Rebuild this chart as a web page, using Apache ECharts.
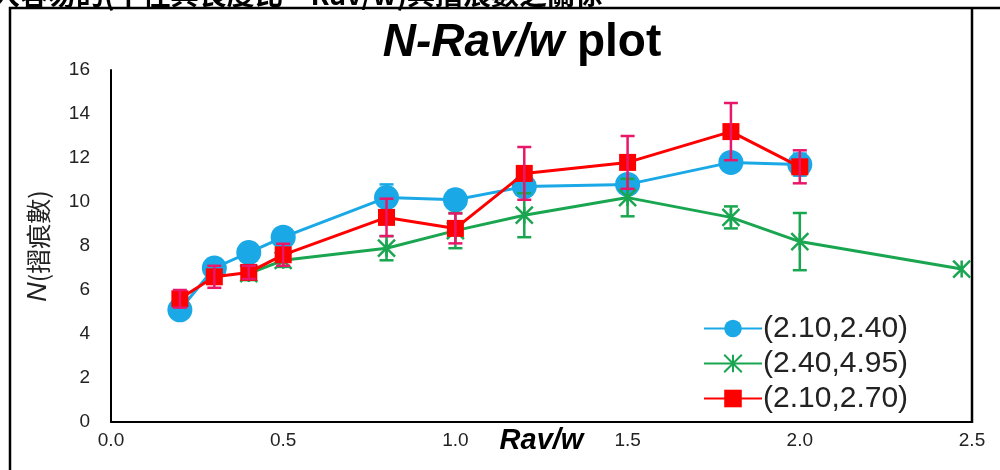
<!DOCTYPE html>
<html><head><meta charset="utf-8">
<script src="https://cdn.jsdelivr.net/npm/echarts@6/dist/echarts.min.js"></script>
<style>html,body{margin:0;padding:0;background:#fff}#c{width:1000px;height:470px}</style>
</head><body><div id="c"></div>
<script>
const seriesNames = ['(2.10,2.40)', '(2.40,4.95)', '(2.10,2.70)'];
const xTicks = [0, 0.5, 1.0, 1.5, 2.0, 2.5];
const yTicks = [0, 2, 4, 6, 8, 10, 12, 14, 16];

const blueX   = [0.2, 0.3, 0.4, 0.5, 0.8, 1.0, 1.2, 1.5, 1.8, 2.0];
const blueY   = [5.1, 7.0, 7.7, 8.4, 10.2, 10.1, 10.7, 10.8, 11.8, 11.7];
const blueErr = [0.2, 0.2, 0.3, 0.3, 0.6, 0.3, 0.3, 0.3, 0.3, 0.5];

const greenX   = [0.4, 0.5, 0.8, 1.0, 1.2, 1.5, 1.8, 2.0, 2.47];
const greenY   = [6.75, 7.35, 7.9, 8.7, 9.4, 10.2, 9.3, 8.2, 6.95];
const greenErr = [0.3, 0.3, 0.55, 0.8, 1.0, 0.85, 0.5, 1.3, 0];

const redX   = [0.2, 0.3, 0.4, 0.5, 0.8, 1.0, 1.2, 1.5, 1.8, 2.0];
const redY   = [5.6, 6.6, 6.8, 7.6, 9.3, 8.8, 11.3, 11.8, 13.2, 11.6];
const redErr = [0.4, 0.5, 0.3, 0.5, 0.85, 0.68, 1.2, 1.2, 1.3, 0.75];

const BLUE = '#1aa9e6', GREEN = '#1aa650', RED = '#ff0000', PINK = '#e8176a';

function pts(xs, ys) { return xs.map((x, i) => [x, ys[i]]); }
function errData(xs, ys, es) { return xs.map((x, i) => [x, ys[i] - es[i], ys[i] + es[i]]); }
function errSeries(data, color, z) {
  return {
    type: 'custom', z: z, silent: true,
    renderItem: function (params, api) {
      const lo = api.coord([api.value(0), api.value(1)]);
      const hi = api.coord([api.value(0), api.value(2)]);
      if (Math.abs(hi[1] - lo[1]) < 1) return null;
      const w = 7;
      const st = { stroke: color, lineWidth: 2.5 };
      return { type: 'group', children: [
        { type: 'line', shape: { x1: lo[0], y1: lo[1], x2: hi[0], y2: hi[1] }, style: st },
        { type: 'line', shape: { x1: lo[0] - w, y1: lo[1], x2: lo[0] + w, y2: lo[1] }, style: st },
        { type: 'line', shape: { x1: hi[0] - w, y1: hi[1], x2: hi[0] + w, y2: hi[1] }, style: st }
      ]};
    },
    encode: { x: 0, y: [1, 2] },
    data: data
  };
}

const chart = echarts.init(document.getElementById('c'), null, { renderer: 'canvas' });
const FONT = 'Liberation Sans, Arial, sans-serif';
chart.setOption({
  backgroundColor: '#fff',
  animation: false,
  textStyle: { fontFamily: FONT },
  title: {
    text: '{i|N-Rav/w}{n| plot}',
    left: 517, top: 15, textAlign: 'center',
    textStyle: { rich: {
      i: { fontSize: 46, fontWeight: 'bold', fontStyle: 'italic', color: '#000', fontFamily: FONT },
      n: { fontSize: 46, fontWeight: 'bold', color: '#000', fontFamily: FONT }
    }}
  },
  grid: { left: 111, right: 28, top: 70, bottom: 48, containLabel: false, outerBoundsMode: 'none' },
  xAxis: {
    type: 'value', min: 0, max: 2.5, interval: 0.5,
    axisLine: { show: true, lineStyle: { color: '#000', width: 2 } },
    axisTick: { show: false }, splitLine: { show: false },
    axisLabel: { color: '#222', fontSize: 19, margin: 9, formatter: v => v.toFixed(1) },
    name: 'Rav/w', nameLocation: 'middle', nameGap: 4, nameMoveOverlap: false,
    nameTextStyle: { fontSize: 29, fontWeight: 'bold', fontStyle: 'italic', color: '#000' }
  },
  yAxis: {
    type: 'value', min: 0, max: 16, interval: 2,
    axisLine: { show: true, lineStyle: { color: '#000', width: 2 } },
    axisTick: { show: false }, splitLine: { show: false },
    axisLabel: { color: '#222', fontSize: 19, margin: 21 },
    name: '{i|N}{n|(摺痕數)}', nameLocation: 'middle', nameGap: 59, nameRotate: 90, nameMoveOverlap: false,
    nameTextStyle: { rich: {
      i: { fontSize: 27, fontStyle: 'italic', color: '#222', fontFamily: FONT },
      n: { fontSize: 25, color: '#222', fontFamily: 'Noto Sans CJK TC, sans-serif' }
    }}
  },
  legend: {
    orient: 'vertical', left: 698, top: 308, itemGap: 4,
    itemWidth: 58, itemHeight: 22,
    data: seriesNames,
    textStyle: { fontSize: 30, lineHeight: 31, color: '#222', fontFamily: FONT, padding: [0, 0, 0, -4] }
  },
  series: [
    {
      name: seriesNames[0], type: 'line', z: 2, data: pts(blueX, blueY),
      symbol: 'circle', symbolSize: 25,
      lineStyle: { color: BLUE, width: 3 }, itemStyle: { color: BLUE }
    },
    errSeries(errData(blueX, blueY, blueErr), BLUE, 2),
    {
      name: seriesNames[1], type: 'line', z: 3, data: pts(greenX, greenY),
      symbol: 'path://M0,0 L10,10 M10,0 L0,10 M5,0 L5,10', symbolSize: 17,
      lineStyle: { color: GREEN, width: 3 },
      itemStyle: { color: 'none', borderColor: GREEN, borderWidth: 2.5 }
    },
    errSeries(errData(greenX, greenY, greenErr), GREEN, 3),
    {
      name: seriesNames[2], type: 'line', z: 4, data: pts(redX, redY),
      symbol: 'rect', symbolSize: 17,
      lineStyle: { color: RED, width: 3 }, itemStyle: { color: RED }
    },
    errSeries(errData(redX, redY, redErr), PINK, 5)
  ],
  graphic: [
    { type: 'polyline', shape: { points: [[10, 470], [10, 8], [1000, 8]] }, style: { stroke: '#000', lineWidth: 2.5, fill: null } },
    { type: 'line', shape: { x1: 972, y1: 8, x2: 972, y2: 423 }, style: { stroke: '#000', lineWidth: 2.5 } },
    { type: 'text', left: -8, top: -20, style: {
        text: '入容易的(半徑與長度比－Rav/w)與摺痕數之關係',
        font: 'bold 28px "Noto Sans CJK TC", sans-serif', fill: '#000' } }
  ]
});
</script></body></html>
